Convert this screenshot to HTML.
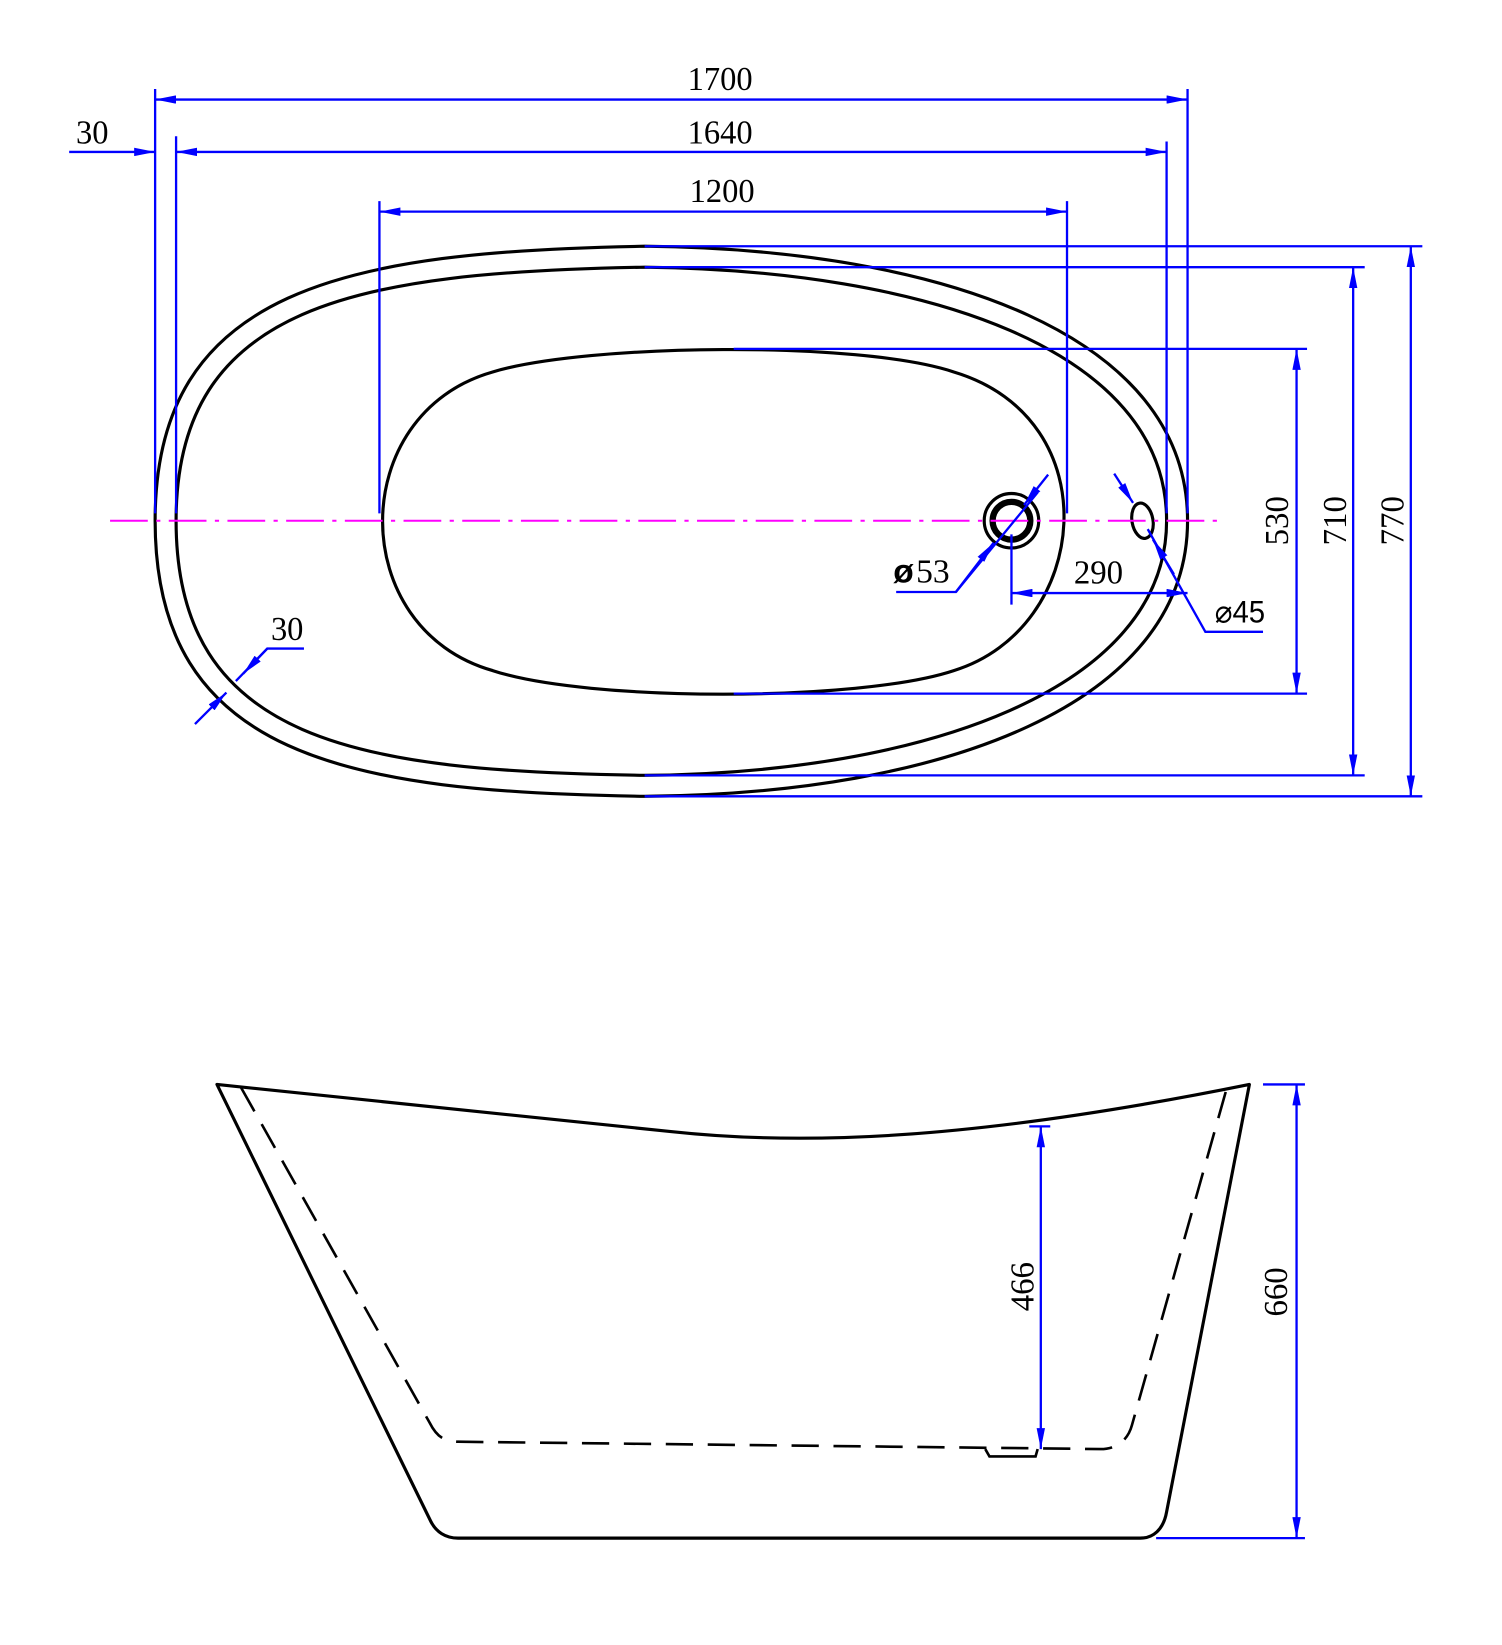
<!DOCTYPE html>
<html><head><meta charset="utf-8"><style>html,body{margin:0;padding:0;background:#fff}svg{display:block}</style></head>
<body>
<svg width="1502" height="1645" viewBox="0 0 1433 1570" preserveAspectRatio="none" xmlns="http://www.w3.org/2000/svg">
<defs>
<marker id="a" viewBox="0 0 20 8" refX="20" refY="4" markerWidth="20" markerHeight="8" markerUnits="userSpaceOnUse" orient="auto-start-reverse"><path d="M0,0 L20,4 L0,8 Z" fill="#0000ff"/></marker>
</defs>
<g fill="none" stroke="#000" stroke-width="3">
<path d="M615,235 C900,238 1133,320 1133,497 C1133,672 900,758 615,760 C330,756 148,722 148,497 C148,275 330,240 615,235 Z"/>
<path d="M615,255 C880,258 1113,332 1113,497 C1113,658 880,738 615,740 C340,736 168,708 168,497 C168,290 340,260 615,255 Z"/>
<path d="M470,355 C560,328 820,325 910,355 C1060,400 1040,600 910,640 C820,670 560,670 470,640 C330,600 330,395 470,355 Z"/>
<circle cx="965" cy="497" r="26" stroke-width="3"/>
<circle cx="965" cy="497" r="18" stroke-width="6"/>
<ellipse cx="1090" cy="497" rx="10" ry="17" transform="rotate(-10 1090 497)"/>
<path d="M207,1035 L640,1080 C760,1093 920,1090 1192,1035 L1113,1443 C1110,1460 1100,1468 1088,1468 L437,1468 C425,1468 416,1462 411,1452 Z" stroke-linejoin="round"/>
<path d="M230,1038 L410,1358 C416,1370 423,1376 437,1376 L1050,1383 C1065,1383 1076,1375 1080,1360 L1170,1040" stroke-width="2.5" stroke-dasharray="26,14"/>
<path d="M940,1383 L944,1390 L988,1390 L990,1383" stroke-width="2.5"/>
</g>
<line x1="105" y1="497" x2="1163" y2="497" stroke="#ff00ff" stroke-width="2" stroke-dasharray="36,8,4,8"/>
<g stroke="#0000ff" stroke-width="2.2" fill="none">
<line x1="148" y1="85" x2="148" y2="490"/><line x1="1133" y1="85" x2="1133" y2="490"/>
<line x1="148" y1="95" x2="1133" y2="95" marker-start="url(#a)" marker-end="url(#a)"/>
<line x1="168" y1="130" x2="168" y2="490"/><line x1="1113" y1="135" x2="1113" y2="490"/>
<line x1="168" y1="145" x2="1113" y2="145" marker-start="url(#a)" marker-end="url(#a)"/>
<line x1="66" y1="145" x2="148" y2="145" marker-end="url(#a)"/>
<line x1="362" y1="192" x2="362" y2="490"/><line x1="1018" y1="192" x2="1018" y2="490"/>
<line x1="362" y1="202" x2="1018" y2="202" marker-start="url(#a)" marker-end="url(#a)"/>
<line x1="615" y1="235" x2="1357" y2="235"/><line x1="615" y1="255" x2="1302" y2="255"/>
<line x1="700" y1="333" x2="1247" y2="333"/><line x1="700" y1="662" x2="1247" y2="662"/>
<line x1="615" y1="740" x2="1302" y2="740"/><line x1="615" y1="760" x2="1357" y2="760"/>
<line x1="1237" y1="333" x2="1237" y2="662" marker-start="url(#a)" marker-end="url(#a)"/>
<line x1="1291" y1="255" x2="1291" y2="740" marker-start="url(#a)" marker-end="url(#a)"/>
<line x1="1346" y1="235" x2="1346" y2="760" marker-start="url(#a)" marker-end="url(#a)"/>
<line x1="1000" y1="453" x2="977" y2="482" marker-end="url(#a)"/>
<polyline points="855,565 912,565 990,470"/>
<line x1="912" y1="565" x2="948" y2="518" marker-end="url(#a)"/>
<line x1="965" y1="510" x2="965" y2="577"/>
<line x1="965" y1="566" x2="1133" y2="566" marker-start="url(#a)" marker-end="url(#a)"/>
<line x1="1063" y1="452" x2="1081" y2="480" marker-end="url(#a)"/>
<polyline points="1095,505 1150,603 1205,603"/>
<line x1="1120" y1="548" x2="1100" y2="515" marker-end="url(#a)"/>
<line x1="186" y1="691" x2="216" y2="661" marker-end="url(#a)"/>
<polyline points="290,619 255,619 225,650"/>
<line x1="255" y1="619" x2="232" y2="643" marker-end="url(#a)"/>
<line x1="982" y1="1075" x2="1002" y2="1075"/>
<line x1="993" y1="1075" x2="993" y2="1383" marker-start="url(#a)" marker-end="url(#a)"/>
<line x1="1205" y1="1035" x2="1245" y2="1035"/><line x1="1103" y1="1468" x2="1245" y2="1468"/>
<line x1="1237" y1="1035" x2="1237" y2="1468" marker-start="url(#a)" marker-end="url(#a)"/>
</g>
<g font-family="Liberation Serif, serif" font-size="32" fill="#000" text-anchor="middle">
<text x="687" y="86" textLength="62" lengthAdjust="spacingAndGlyphs">1700</text>
<text x="687" y="137" textLength="62" lengthAdjust="spacingAndGlyphs">1640</text>
<text x="689" y="193" textLength="62" lengthAdjust="spacingAndGlyphs">1200</text>
<text x="88" y="137" textLength="31" lengthAdjust="spacingAndGlyphs">30</text>
<text x="274" y="611" textLength="31" lengthAdjust="spacingAndGlyphs">30</text>
<text x="1048" y="557" textLength="47" lengthAdjust="spacingAndGlyphs">290</text>
<text x="890" y="556" textLength="32" lengthAdjust="spacingAndGlyphs">53</text>
<text x="862" y="556" font-family="Liberation Sans, sans-serif" font-weight="bold" font-size="32">ø</text>
<text x="1183" y="594" font-family="Liberation Sans, sans-serif" font-size="30" textLength="48" lengthAdjust="spacingAndGlyphs">⌀45</text>
<text transform="translate(1229,497) rotate(-90)" textLength="47" lengthAdjust="spacingAndGlyphs">530</text>
<text transform="translate(1284,497) rotate(-90)" textLength="47" lengthAdjust="spacingAndGlyphs">710</text>
<text transform="translate(1339,497) rotate(-90)" textLength="47" lengthAdjust="spacingAndGlyphs">770</text>
<text transform="translate(986,1228) rotate(-90)" textLength="47" lengthAdjust="spacingAndGlyphs">466</text>
<text transform="translate(1228,1233) rotate(-90)" textLength="47" lengthAdjust="spacingAndGlyphs">660</text>
</g>
</svg>
</body></html>
